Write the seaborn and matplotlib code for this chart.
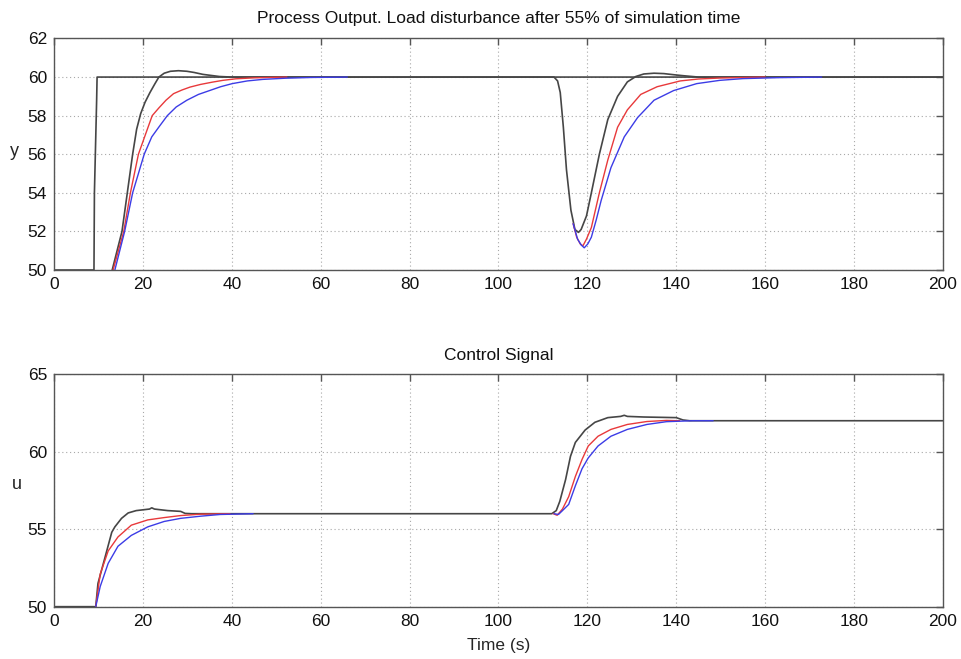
import matplotlib
matplotlib.use("Agg")
import matplotlib.pyplot as plt
import pandas as pd
import seaborn as sns

# ---------------------------------------------------------------- data
# Setpoint for the process output
sp_t = [0.0, 9.0, 9.1, 9.6, 9.7, 200.0]
sp_y = [50.0, 50.0, 54.0, 58.8, 60.0, 60.0]

# Process output y(t), controller A (black)
ya_t = [11.5, 12.6, 13.1, 14.2, 15.3, 16.5, 17.7, 18.6, 19.5, 20.5, 21.6, 22.7,
        23.6, 24.8, 26.2, 28.0, 29.9, 31.5, 33.5, 35.5, 37.2, 40.0, 112.5, 113.3,
        113.9, 114.6, 115.3, 116.3, 117.2, 118.0, 118.6, 119.8, 120.9, 122.7, 124.6,
        126.8, 129.0, 130.9, 132.7, 135.0, 137.2, 139.5, 141.6, 145.0, 200.0]
ya_v = [48.0, 49.5, 50.0, 51.0, 52.0, 54.0, 56.0, 57.3, 58.1, 58.7, 59.2, 59.65,
        60.0, 60.2, 60.3, 60.33, 60.3, 60.24, 60.14, 60.08, 60.03, 60.0, 60.0, 59.8,
        59.2, 57.4, 55.2, 53.1, 52.1, 51.95, 52.1, 52.8, 54.0, 56.0, 57.8,
        59.0, 59.75, 60.03, 60.16, 60.2, 60.18, 60.12, 60.07, 60.0, 60.0]

# Process output y(t), controller B (red): start-up and disturbance segments
yb1_t = [11.5, 13.3, 15.7, 17.2, 19.0, 20.7, 22.1, 23.6, 25.2, 26.9, 28.8, 30.6,
         33.0, 35.7, 38.0, 40.9, 45.0, 52.4]
yb1_v = [48.3, 50.0, 52.0, 54.0, 56.0, 57.1, 58.0, 58.4, 58.8, 59.14, 59.33, 59.48,
         59.62, 59.74, 59.83, 59.91, 59.96, 60.0]
yb2_t = [116.8, 117.6, 118.4, 119.0, 119.8, 120.9, 122.7, 124.6, 126.8, 129.0,
         132.0, 135.7, 140.9, 145.0, 149.8, 160.0]
yb2_v = [52.4, 51.7, 51.35, 51.25, 51.6, 52.2, 54.0, 55.7, 57.4, 58.3,
         59.1, 59.5, 59.8, 59.9, 59.95, 60.0]

# Process output y(t), controller C (blue)
yc1_t = [11.8, 13.7, 15.9, 17.7, 20.3, 22.0, 23.6, 25.5, 27.5, 29.9, 32.5, 35.0,
         37.5, 40.1, 43.5, 47.0, 52.0, 58.0, 66.0]
yc1_v = [48.3, 50.0, 52.0, 54.0, 56.0, 56.9, 57.41, 58.0, 58.45, 58.8, 59.1, 59.3,
         59.5, 59.66, 59.8, 59.88, 59.94, 59.98, 60.0]
yc2_t = [116.8, 117.8, 118.6, 119.3, 120.1, 120.9, 122.0, 123.1, 125.3, 128.3,
         131.3, 135.0, 139.4, 144.6, 149.8, 155.0, 163.0, 172.7]
yc2_v = [52.4, 51.6, 51.3, 51.15, 51.35, 51.7, 52.6, 53.6, 55.3, 56.9,
         57.9, 58.8, 59.3, 59.66, 59.83, 59.92, 59.97, 60.0]

# Control signal u(t), controller A (black)
ua_t = [0.0, 9.4, 9.9, 11.5, 13.0, 13.7, 15.2, 16.7, 18.5, 20.0, 21.5, 22.0,
        22.6, 25.6, 28.5, 29.5, 31.0, 112.0, 113.0, 113.8, 115.1, 116.2, 117.3,
        119.5, 121.7, 124.6, 127.5, 128.3, 129.0, 132.7, 140.0, 141.5, 143.0, 200.0]
ua_v = [50.0, 50.0, 51.5, 53.2, 54.8, 55.15, 55.7, 56.05, 56.2, 56.25, 56.3, 56.38,
        56.3, 56.2, 56.15, 56.02, 56.0, 56.0, 56.2, 56.8, 58.2, 59.7, 60.6,
        61.4, 61.9, 62.2, 62.28, 62.35, 62.28, 62.24, 62.2, 62.05, 62.0, 62.0]

# Control signal u(t), controller B (red)
ub1_t = [9.4, 10.4, 12.2, 14.4, 17.4, 21.1, 24.8, 28.5, 33.0, 39.6]
ub1_v = [50.0, 52.1, 53.6, 54.5, 55.26, 55.6, 55.75, 55.88, 55.97, 56.0]
ub2_t = [112.3, 113.2, 114.4, 115.8, 117.3, 118.8, 120.2, 122.4, 125.3, 129.0,
         133.4, 137.8, 140.8]
ub2_v = [56.0, 55.9, 56.3, 57.1, 58.4, 59.5, 60.37, 61.0, 61.44, 61.76,
         61.95, 62.02, 62.0]

# Control signal u(t), controller C (blue)
uc1_t = [9.4, 10.4, 12.2, 14.4, 17.4, 21.1, 24.8, 28.5, 33.0, 37.4, 44.8]
uc1_v = [50.0, 51.3, 52.8, 53.9, 54.6, 55.15, 55.5, 55.7, 55.84, 55.95, 56.0]
uc2_t = [112.5, 113.5, 114.4, 115.8, 117.3, 118.8, 120.2, 122.4, 125.3, 129.0,
         133.4, 137.8, 143.7, 148.3]
uc2_v = [56.0, 55.95, 56.2, 56.6, 57.8, 58.9, 59.6, 60.37, 61.0, 61.44,
         61.76, 61.94, 62.0, 62.0]

x_ticks = [0, 20, 40, 60, 80, 100, 120, 140, 160, 180, 200]
y_ticks_top = [50, 52, 54, 56, 58, 60, 62]
y_ticks_bottom = [50, 55, 60, 65]


def frame(pieces):
    rows = []
    for name, seg, ts, vs in pieces:
        for t, v in zip(ts, vs):
            rows.append({"series": name, "seg": f"{name}-{seg}", "t": t, "v": v})
    return pd.DataFrame(rows)


top_black = frame([("setpoint", 0, sp_t, sp_y), ("A", 0, ya_t, ya_v)])
top_col = frame([("B", 1, yb1_t, yb1_v), ("B", 2, yb2_t, yb2_v),
                 ("C", 1, yc1_t, yc1_v), ("C", 2, yc2_t, yc2_v)])
bot_black = frame([("A", 0, ua_t, ua_v)])
bot_col = frame([("B", 1, ub1_t, ub1_v), ("B", 2, ub2_t, ub2_v),
                 ("C", 1, uc1_t, uc1_v), ("C", 2, uc2_t, uc2_v)])

# ---------------------------------------------------------------- style
sns.set_theme(style="white")
plt.rcParams["font.family"] = ["Liberation Sans", "DejaVu Sans"]

black = "#464646"
palette = {"B": "#e8393b", "C": "#3c3ce6"}

fig = plt.figure(figsize=(9.62, 6.59), dpi=100)
ax1 = fig.add_axes([0.0561, 0.5903, 0.9241, 0.3513])
ax2 = fig.add_axes([0.0561, 0.0794, 0.9241, 0.3527])


def draw(ax, dblack, dcol):
    sns.lineplot(data=dblack, x="t", y="v", units="seg", estimator=None,
                 sort=False, color=black, linewidth=1.2, ax=ax, legend=False)
    sns.lineplot(data=dcol, x="t", y="v", hue="series", units="seg",
                 estimator=None, sort=False, palette=palette, linewidth=1.0,
                 hue_order=["B", "C"], ax=ax, legend=False)


draw(ax1, top_black, top_col)
draw(ax2, bot_black, bot_col)

for ax, yt in ((ax1, y_ticks_top), (ax2, y_ticks_bottom)):
    ax.set_xlim(0, 200)
    ax.set_ylim(yt[0], yt[-1])
    ax.set_xticks(x_ticks)
    ax.set_yticks(yt)
    ax.set_axisbelow(True)
    ax.grid(True, linestyle=(0, (1, 2.5)), color="#a8a8a8", linewidth=0.8)
    for sp in ax.spines.values():
        sp.set_visible(True)
        sp.set_color("#555555")
        sp.set_linewidth(1.0)
    ax.tick_params(direction="in", top=True, right=True, length=5, width=1,
                   color="#555555", labelsize=12.5, labelcolor="#111111", pad=5)
    ax.set_xlabel("")

ax1.set_title("Process Output. Load disturbance after 55% of simulation time",
              fontsize=12.5, pad=11, color="#111111")
ax2.set_title("Control Signal", fontsize=12.5, pad=10, color="#111111")

ax1.set_ylabel("y", rotation=0, fontsize=13, ha="center", va="center")
ax1.yaxis.set_label_coords(-0.044, 0.51)
ax2.set_ylabel("u", rotation=0, fontsize=13, ha="center", va="center")
ax2.yaxis.set_label_coords(-0.042, 0.524)
ax2.set_xlabel("Time (s)", fontsize=12.5, va="center")
ax2.xaxis.set_label_coords(0.5, -0.169)

fig.savefig("out.png", dpi=100, facecolor="white")
